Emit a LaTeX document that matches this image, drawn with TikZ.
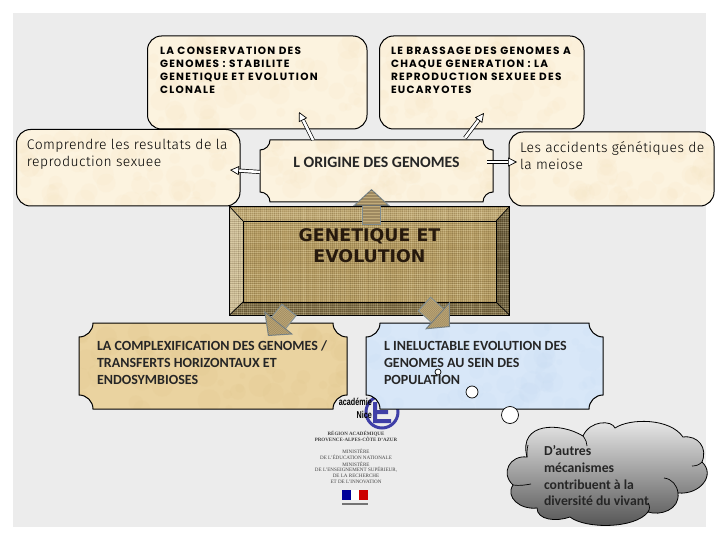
\documentclass[tikz,border=0pt]{standalone}
\usepackage{fontspec}
\usetikzlibrary{arrows.meta,calc}
\setmainfont{Carlito}
\newfontfamily\headfont[LetterSpace=12]{Poppins}
\newfontfamily\handfont[LetterSpace=3]{Fira Sans Light}
\newfontfamily\corefont{DejaVu Sans}
\newfontfamily\logofont{Liberation Serif}
\newfontfamily\acfont{Liberation Sans}
\definecolor{pagegray}{HTML}{ECECEC}
\definecolor{cream}{HTML}{FCF3DF}
\definecolor{creamdark}{HTML}{F6E6C6}
\definecolor{sand}{HTML}{EAD3A0}
\definecolor{sanddark}{HTML}{E0C68C}
\definecolor{skyb}{HTML}{D8E7F8}
\definecolor{skydark}{HTML}{C8DCF2}
\definecolor{burlap}{HTML}{B69C62}
\definecolor{weavedark}{HTML}{5E4A24}
\definecolor{weavelight}{HTML}{E8DBB0}
\definecolor{edgegray}{HTML}{7F8C90}
\tikzset{
  x=1pt,y=-1pt,
  outline/.style={draw=black,line width=1pt},
  whitearrow/.style={draw=black,line width=.7pt,double=white,double distance=2.6pt,
    -{Stealth[length=9pt,width=9pt,inset=0pt,fill=white,line width=.7pt]}},
  bigarrow/.style={draw=edgegray,line width=1pt,double=burlap!85!white,double distance=17pt,
    -{Triangle[length=17pt,width=37pt,fill=burlap!85!white,line width=1pt]}},
  blocktext/.style={anchor=north west,inner sep=0pt,outer sep=0pt,align=left},
  hd/.style={blocktext,font=\headfont\bfseries\fontsize{10.5}{13}\selectfont},
  hand/.style={blocktext,font=\handfont\fontsize{13.9}{17.5}\selectfont},
  cal/.style={blocktext,font=\bfseries\fontsize{14}{16.8}\selectfont,text=black!85},
  logotext/.style={inner sep=0pt,font=\logofont\fontsize{5.1}{5.6}\selectfont,text=black!75},
}
\newcommand\plaqpath[5]{(#1+#5,#2) -- (#3-#5,#2) .. controls (#3-#5,#2+.55*#5) and (#3-.55*#5,#2+#5) .. (#3,#2+#5) -- (#3,#4-#5) .. controls (#3-.55*#5,#4-#5) and (#3-#5,#4-.55*#5) .. (#3-#5,#4) -- (#1+#5,#4) .. controls (#1+#5,#4-.55*#5) and (#1+.55*#5,#4-#5) .. (#1,#4-#5) -- (#1,#2+#5) .. controls (#1+.55*#5,#2+#5) and (#1+#5,#2+.55*#5) .. (#1+#5,#2) -- cycle}
\newcommand\roundpath[4]{[rounded corners=14pt] (#1,#2) rectangle (#3,#4) [sharp corners]}
\newcommand\panel[8]{%
  \fill[#7] #6;
  \begin{scope}
    \clip #6;
    \foreach \i in {1,...,70}{
      \pgfmathsetmacro\rx{#2+rnd*(#4-#2)}
      \pgfmathsetmacro\ry{#3+rnd*(#5-#3)}
      \pgfmathsetmacro\rr{3+rnd*9}
      \fill[#8,opacity=.16] (\rx,\ry) circle (\rr);
    }
  \end{scope}
  \draw[outline] #6;
  \node[inner sep=0pt,outer sep=0pt,minimum width={(#4-#2)*1pt},minimum height={(#5-#3)*1pt}] (#1) at ({(#2+#4)/2},{(#3+#5)/2}) {};
}
% block connector #1 -> #2 with a woven look across it
\newcommand\bigconn[2]{%
  \draw[bigarrow] (#1) -- (#2);
  \path let \p1=($(#2)-(#1)$), \n1={veclen(\x1,\y1)} in
    \pgfextra{\pgfmathsetmacro\lenA{\n1/1pt}\global\let\lenB\lenA};
  \foreach \k in {1.5,3,...,\lenB}{
    \pgfmathsetmacro\hw{\k<17 ? 17.5*\k/17 : 8.2}
    \coordinate (pp) at ($(#2)!\k pt!(#1)$);
    \draw[black!70!brown,line width=.6pt,opacity=.25] ($(pp)!\hw pt!90:(#1)$) -- ($(pp)!\hw pt!-90:(#1)$);
  }
  \coordinate (pp) at (#1);
  \draw[edgegray,line width=1pt] ($(pp)!9.5pt!90:(#2)$) -- ($(pp)!9.5pt!-90:(#2)$);
}
\begin{document}
\begin{tikzpicture}
\pgfmathsetseed{421}
\useasboundingbox (0,0) rectangle (720,540);
\fill[white] (0,0) rectangle (720,540);
\fill[pagegray] (13,13) rectangle (706,527);

% upper cards
\panel{cons}{147.5}{36}{367}{129}{\roundpath{147.5}{36}{367}{129}}{cream}{creamdark}
\panel{bras}{379.5}{36}{584}{129}{\roundpath{379.5}{36}{584}{129}}{cream}{creamdark}
\panel{comp}{16.5}{129.5}{240}{206}{\roundpath{16.5}{129.5}{240}{206}}{cream}{creamdark}
\panel{acci}{509}{132}{714}{206}{\roundpath{509}{132}{714}{206}}{cream}{creamdark}
\panel{orig}{260}{140}{493}{202}{\plaqpath{260}{140}{493}{202}{10}}{cream}{creamdark}

\node[hd] (consT) at (160,47.5) {LA CONSERVATION DES\\GENOMES : STABILITE\\GENETIQUE ET EVOLUTION\\CLONALE};
\node[hd] (brasT) at (391,47.5) {LE BRASSAGE DES GENOMES A\\CHAQUE GENERATION : LA\\REPRODUCTION SEXUEE DES\\EUCARYOTES};
\node[hand] (compT) at (27,139) {Comprendre les resultats de la\\reproduction sexuee};
\node[hand] (acciT) at (520,141.5) {Les accidents génétiques de\\la meiose};
\node[inner sep=0pt,font=\bfseries\fontsize{15.8}{17}\selectfont,text=black!85] (origT) at (376.5,162) {L ORIGINE DES GENOMES};

% small connectors
\coordinate (tipCons) at (299,112);
\coordinate (tipBras) at (484,113);
\coordinate (tipComp) at (230,170);
\coordinate (tipAcci) at (517,162);
\draw[whitearrow] ([xshift=-63.5pt]orig.north) -- (tipCons);
\draw[whitearrow] ([xshift=88.5pt,yshift=2pt]orig.north) -- (tipBras);
\draw[whitearrow] ([yshift=-1pt]orig.west) -- (tipComp);
\draw[whitearrow] ([xshift=-6pt,yshift=9pt]orig.east) -- (tipAcci);

% central bevelled plate
\fill[burlap] (243,221) rectangle (496,302);
\fill[burlap!92!white] (229.5,206.5) -- (509.5,206.5) -- (496,221) -- (243,221) -- cycle;
\fill[burlap!60!white] (229.5,206.5) -- (243,221) -- (243,302) -- (229.5,315) -- cycle;
\fill[burlap!60!black] (229.5,315) -- (243,302) -- (496,302) -- (509.5,315) -- cycle;
\fill[burlap!48!black] (509.5,206.5) -- (509.5,315) -- (496,302) -- (496,221) -- cycle;
\begin{scope}
  \clip (229.5,206.5) rectangle (509.5,315);
  \foreach \i in {0,...,139}{
    \pgfmathsetmacro\xa{229.5+2*\i}
    \pgfmathsetmacro\oa{.05+rnd*.30}
    \pgfmathsetmacro\oc{.03+rnd*.20}
    \draw[weavelight,line width=.8pt,opacity=\oa] (\xa,206.5) -- (\xa,315);
    \draw[weavedark,line width=.6pt,opacity=\oc] (\xa+1,206.5) -- (\xa+1,315);
  }
  \foreach \i in {0,...,54}{
    \pgfmathsetmacro\ya{206.5+2*\i}
    \pgfmathsetmacro\ob{.05+rnd*.30}
    \pgfmathsetmacro\od{.03+rnd*.20}
    \draw[weavelight,line width=.8pt,opacity=\ob] (229.5,\ya) -- (509.5,\ya);
    \draw[weavedark,line width=.6pt,opacity=\od] (229.5,\ya+1) -- (509.5,\ya+1);
  }
\end{scope}
\draw[outline] (229.5,206.5) rectangle (509.5,315);
\draw[black,line width=.7pt] (243,221) rectangle (496,302);
\draw[black,line width=.7pt] (229.5,206.5) -- (243,221) (509.5,206.5) -- (496,221) (229.5,315) -- (243,302) (509.5,315) -- (496,302);
\node[inner sep=0pt,outer sep=0pt,minimum width=280pt,minimum height=108.5pt] (core) at (369.5,260.75) {};
\node[inner sep=0pt,align=center,font=\corefont\bfseries\fontsize{17.4}{21.5}\selectfont,text={black!80!brown}] (coreT) at (369.5,245.5) {GENETIQUE ET\\EVOLUTION};

% lower plaques and logo
\panel{cplx}{79}{323}{347}{409}{\plaqpath{79}{323}{347}{409}{14}}{sand}{sanddark}
\draw[blue!45!gray!90!black,line width=3pt] (382,412) circle (16);
\fill[blue!45!gray!90!black] (373,402) rectangle (377,423) (373,410) rectangle (388,414) (373,419) rectangle (391,423);
\panel{inel}{366}{323}{603}{409}{\plaqpath{366}{323}{603}{409}{14}}{skyb}{skydark}
\node[cal] (cplxT) at (97,341) {LA COMPLEXIFICATION DES GENOMES /\\TRANSFERTS HORIZONTAUX ET\\ENDOSYMBIOSES};
\node[cal] (inelT) at (384,341.5) {L INELUCTABLE EVOLUTION DES\\GENOMES AU SEIN DES\\POPULATION};

% big connectors
\coordinate (tailUp) at (371.5,225);
\coordinate (tipUp) at (371.5,189);
\coordinate (tailL) at (289,310);
\coordinate (tipL) at (268,336);
\coordinate (tailR) at (424.5,304);
\coordinate (tipR) at (450,327);
\bigconn{tailUp}{tipUp}
\bigconn{tailL}{tipL}
\bigconn{tailR}{tipR}

% logo text
\node[inner sep=0pt,anchor=east,font=\acfont\bfseries\fontsize{10}{10}\selectfont] (acad) at (372,402) {\scalebox{.72}[1]{académie}};
\node[inner sep=0pt,anchor=east,font=\acfont\bfseries\fontsize{10}{10}\selectfont] (nice) at (372,415) {\scalebox{.72}[1]{Nice}};
\node[logotext,font=\logofont\bfseries\fontsize{5}{5.4}\selectfont,align=center] (reg) at (356,436.5) {RÉGION ACADÉMIQUE\\PROVENCE-ALPES-CÔTE D’AZUR};
\node[logotext,align=center] (min1) at (356,454.5) {MINISTÈRE\\DE L’ÉDUCATION NATIONALE};
\node[logotext,align=center] (min2) at (356,472.5) {MINISTÈRE\\DE L’ENSEIGNEMENT SUPÉRIEUR,\\DE LA RECHERCHE\\ET DE L’INNOVATION};
\fill[blue!60!black] (342,490) rectangle (351,500);
\fill[white] (351,490) rectangle (359,500);
\fill[red!80!black] (359,490) rectangle (368,500);
\fill[black!55] (342,503) rectangle (368,504.5);

% thought bubbles
\node[draw=black,fill=white,circle,inner sep=0pt,minimum size=6pt,line width=.7pt] (bubA) at (438,372) {};
\node[draw=black,fill=white,circle,inner sep=0pt,minimum size=12pt,line width=.7pt] (bubB) at (472,392) {};
\node[draw=black,fill=white,circle,inner sep=0pt,minimum size=17pt,line width=.7pt] (bubC) at (510,415) {};

% cloud
\path[draw=black,line width=.8pt,top color=black!8,bottom color=black!68]
  (527,457) .. controls (518,422) and (560,422) .. (583,436)
  .. controls (590,420) and (612,420) .. (615,428)
  .. controls (630,418) and (670,418) .. (683,437)
  .. controls (698,435) and (708,448) .. (702,462)
  .. controls (716,475) and (700,495) .. (678,493)
  .. controls (680,510) and (660,516) .. (648,512)
  .. controls (635,529) and (585,529) .. (570,517)
  .. controls (556,522) and (537,520) .. (537,508)
  .. controls (520,510) and (505,497) .. (513,485)
  .. controls (500,473) and (510,455) .. (527,457) -- cycle;
\draw[black,line width=.7pt] (513,485) .. controls (520,486) and (525,485) .. (531,484);
\draw[black,line width=.7pt] (702,462) .. controls (699,465) and (696,466) .. (692,466);
\draw[black,line width=.7pt] (664,478) .. controls (672,479) and (677,485) .. (678,493);
\draw[black,line width=.7pt] (648,512) .. controls (650,509) and (650,506) .. (648,503);
\draw[black,line width=.7pt] (527,457) .. controls (527,453) and (527,448) .. (528,445);
\draw[black,line width=.7pt] (583,436) .. controls (586,440) and (587,443) .. (587,446);
\node[blocktext,font=\bfseries\fontsize{13.7}{16.6}\selectfont,text=black!85] (cloudT) at (544,446) {D’autres\\mécanismes\\contribuent à la\\diversité du vivant};
\end{tikzpicture}
\end{document}
